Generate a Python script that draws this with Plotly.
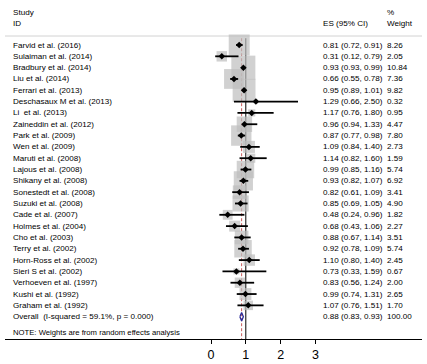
import plotly.graph_objects as go

studies = ["Farvid et al. (2016)", "Sulaiman et al. (2014)", "Bradbury et al. (2014)",
           "Liu et al. (2014)", "Ferrari et al. (2013)", "Deschasaux M et al. (2013)",
           "Li  et al. (2013)", "Zaineddin et al. (2012)", "Park et al. (2009)",
           "Wen et al. (2009)", "Maruti et al. (2008)", "Lajous et al. (2008)",
           "Shikany et al. (2008)", "Sonestedt et al. (2008)", "Suzuki et al. (2008)",
           "Cade et al. (2007)", "Holmes et al. (2004)", "Cho et al. (2003)",
           "Terry et al. (2002)", "Horn-Ross et al. (2002)", "Sieri S et al. (2002)",
           "Verhoeven et al. (1997)", "Kushi et al. (1992)", "Graham et al. (1992)"]
es = [0.81, 0.31, 0.93, 0.66, 0.95, 1.29, 1.17, 0.96, 0.87, 1.09, 1.14, 0.99,
      0.93, 0.82, 0.85, 0.48, 0.68, 0.88, 0.92, 1.10, 0.73, 0.83, 0.99, 1.07]
lo = [0.72, 0.12, 0.93, 0.55, 0.89, 0.66, 0.76, 0.94, 0.77, 0.84, 0.82, 0.85,
      0.82, 0.61, 0.69, 0.24, 0.43, 0.67, 0.78, 0.80, 0.33, 0.56, 0.74, 0.76]
hi = [0.91, 0.79, 0.99, 0.78, 1.01, 2.50, 1.80, 1.33, 0.98, 1.40, 1.60, 1.16,
      1.07, 1.09, 1.05, 0.96, 1.06, 1.14, 1.09, 1.40, 1.59, 1.24, 1.31, 1.51]
weights = [8.26, 2.05, 10.84, 7.36, 9.82, 0.32, 0.95, 4.47, 7.80, 2.73, 1.59, 5.74,
           6.92, 3.41, 4.90, 1.82, 2.27, 3.51, 5.74, 2.45, 0.67, 2.00, 2.65, 1.70]
overall_label = "Overall  (I-squared = 59.1%, p = 0.000)"
overall_es, overall_lo, overall_hi, overall_w = 0.88, 0.83, 0.93, 100.00
tick_vals = [0, 1, 2, 3]
note_text = "NOTE: Weights are from random effects analysis"

W, H = 427, 364
ML, MR, MT, MB = 5, 5, 0, 25
px_per_unit = 34.8
x0_px = 211.0
xmin = -(x0_px - ML) / px_per_unit
xmax = xmin + (W - ML - MR) / px_per_unit
row0_px, row_h = 45.0, 11.32
ytop = -(row0_px - MT) / row_h
ybot = (H - MB - row0_px) / row_h

def py(px):
    return (px - row0_px) / row_h

def pxp(px):
    return (px - ML) / (W - ML - MR)

rows = list(range(len(studies)))
r_over = len(studies)
FONT = "Liberation Sans, Arial, sans-serif"

fig = go.Figure()
# weight boxes
fig.add_trace(go.Scatter(
    x=es, y=rows, mode="markers",
    marker=dict(symbol="square", size=[7.3 * w ** 0.5 for w in weights],
                color="rgb(190,190,190)", line=dict(width=0)),
    hoverinfo="skip", showlegend=False))
# CI lines
cx, cy = [], []
for r, a, b in zip(rows, lo, hi):
    cx += [a, b, None]
    cy += [r, r, None]
fig.add_trace(go.Scatter(x=cx, y=cy, mode="lines",
                         line=dict(color="black", width=1.8),
                         hoverinfo="skip", showlegend=False))
# point estimates
fig.add_trace(go.Scatter(x=es, y=rows, mode="markers",
                         marker=dict(symbol="diamond", size=5, color="black"),
                         hoverinfo="skip", showlegend=False))
# overall diamond
fig.add_trace(go.Scatter(
    x=[overall_lo, overall_es, overall_hi, overall_es, overall_lo],
    y=[r_over, r_over - 0.38, r_over, r_over + 0.38, r_over],
    mode="lines", line=dict(color="rgb(40,40,150)", width=1.3),
    hoverinfo="skip", showlegend=False))

shapes = [
    dict(type="line", xref="x", yref="y", x0=1, x1=1, y0=-0.6, y1=ybot,
         line=dict(color="black", width=1), layer="below"),
    dict(type="line", xref="x", yref="y", x0=overall_es, x1=overall_es, y0=-0.6, y1=ybot,
         line=dict(color="rgb(200,90,90)", width=1, dash="3px,2px"), layer="below"),
    dict(type="line", xref="paper", yref="y", x0=0, x1=1, y0=py(36), y1=py(36),
         line=dict(color="rgb(210,210,210)", width=1), layer="below"),
]

ann = []
def txt(xpx, y, s, size=8.1):
    ann.append(dict(x=pxp(xpx), xref="paper", y=y, yref="y", text=s, showarrow=False,
                    xanchor="left", yanchor="middle",
                    font=dict(family=FONT, size=size, color="black")))

txt(11, py(12), "Study")
txt(11, py(23.3), "ID")
txt(321, py(23.3), "ES (95% CI)")
txt(385, py(12.5), "%")
txt(385, py(23.3), "Weight")
for r, s, e, a, b, w in zip(rows, studies, es, lo, hi, weights):
    txt(11, r, s)
    txt(321, r, f"{e:.2f} ({a:.2f}, {b:.2f})")
    txt(385, r, f"{w:.2f}")
txt(11, r_over, overall_label)
txt(321, r_over, f"{overall_es:.2f} ({overall_lo:.2f}, {overall_hi:.2f})")
txt(385, r_over, f"{overall_w:.2f}")
txt(11, py(332.7), note_text, size=7.7)

fig.update_layout(
    width=W, height=H, margin=dict(l=ML, r=MR, t=MT, b=MB),
    paper_bgcolor="white", plot_bgcolor="white",
    shapes=shapes, annotations=ann, showlegend=False,
    xaxis=dict(range=[xmin, xmax], tickvals=tick_vals, ticktext=[str(t) for t in tick_vals],
               showgrid=False, zeroline=False, showline=True, linecolor="black", linewidth=1,
               ticks="outside", ticklen=4, tickcolor="black", tickwidth=1,
               tickfont=dict(family=FONT, size=12.5, color="black"), fixedrange=True),
    yaxis=dict(range=[ybot, ytop], visible=False, showgrid=False, zeroline=False,
               fixedrange=True),
)

fig.write_html("out.html")
